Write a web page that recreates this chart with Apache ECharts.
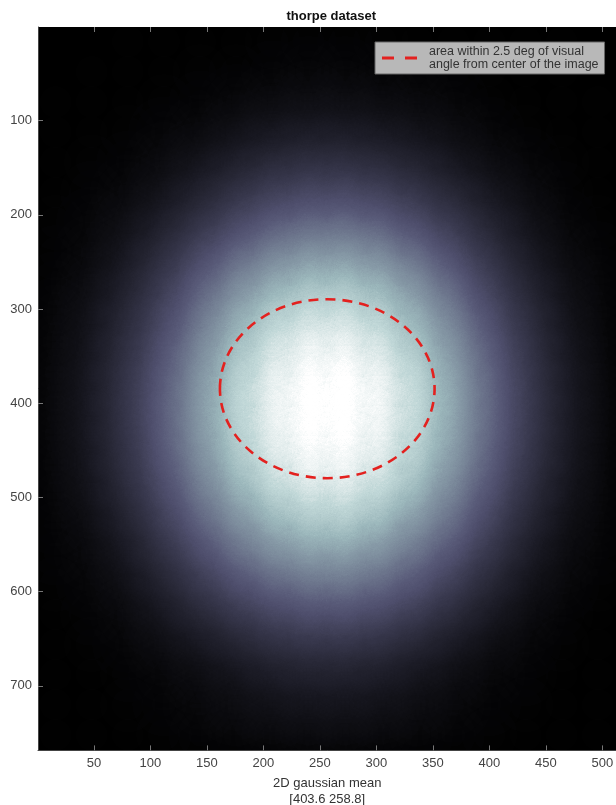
<!DOCTYPE html>
<html>
<head>
<meta charset="utf-8">
<script src="https://cdn.jsdelivr.net/npm/echarts@6/dist/echarts.min.js"></script>
<style>
  html, body { margin: 0; padding: 0; background: #ffffff; }
  #chart { width: 616px; height: 805px; }
</style>
</head>
<body>
<div id="chart"></div>
<script>
// Sample positions (image pixel coordinates) of the fixation density grid
const colCenters = [16, 48, 80, 112, 144, 176, 208, 240, 272, 304, 336, 368, 400, 432, 464, 496];
const rowCenters = [16, 48, 80, 112, 144, 176, 208, 240, 272, 304, 336, 368, 400, 432, 464, 496,
                    528, 560, 592, 624, 656, 688, 720, 752];

// Relative fixation density (0-100), one row per entry of rowCenters
const fixationDensity = [
  [1, 1, 2, 2, 2, 2, 3, 3, 3, 3, 2, 2, 2, 2, 2, 1],
  [1, 2, 2, 2, 3, 3, 4, 5, 5, 4, 4, 3, 2, 2, 2, 1],
  [2, 2, 2, 3, 4, 6, 7, 8, 8, 7, 6, 5, 3, 2, 2, 2],
  [2, 2, 3, 5, 6, 9, 12, 14, 14, 12, 10, 7, 5, 3, 2, 2],
  [2, 3, 4, 7, 11, 16, 21, 24, 24, 21, 17, 12, 7, 5, 3, 2],
  [2, 4, 6, 10, 17, 26, 33, 37, 37, 34, 27, 19, 12, 7, 4, 2],
  [3, 5, 9, 16, 26, 37, 46, 51, 52, 47, 39, 29, 18, 10, 5, 3],
  [3, 6, 12, 23, 37, 50, 60, 66, 66, 62, 52, 39, 25, 14, 7, 4],
  [4, 8, 16, 30, 47, 62, 73, 79, 80, 75, 64, 50, 33, 19, 9, 5],
  [5, 10, 21, 37, 55, 72, 83, 88, 88, 84, 74, 58, 40, 24, 11, 5],
  [5, 11, 24, 42, 62, 79, 89, 94, 94, 90, 81, 65, 46, 27, 13, 6],
  [6, 13, 27, 46, 66, 83, 93, 97, 98, 94, 85, 70, 50, 30, 15, 6],
  [6, 13, 28, 48, 68, 85, 94, 99, 99, 95, 87, 72, 51, 31, 15, 7],
  [6, 13, 27, 47, 67, 84, 93, 98, 98, 94, 86, 71, 50, 31, 15, 6],
  [5, 12, 25, 43, 63, 80, 90, 95, 95, 91, 82, 67, 47, 28, 14, 6],
  [5, 10, 22, 38, 57, 73, 85, 89, 90, 86, 76, 60, 42, 24, 12, 5],
  [4, 8, 17, 32, 49, 64, 75, 81, 82, 77, 66, 52, 35, 20, 9, 5],
  [4, 6, 13, 25, 39, 53, 64, 69, 70, 65, 55, 42, 27, 15, 7, 4],
  [3, 5, 9, 18, 29, 41, 50, 55, 56, 51, 43, 31, 20, 10, 6, 3],
  [2, 4, 6, 12, 20, 28, 36, 40, 41, 37, 30, 21, 13, 7, 4, 2],
  [2, 3, 5, 8, 12, 18, 24, 27, 27, 24, 19, 13, 8, 5, 3, 2],
  [2, 2, 3, 5, 7, 10, 14, 16, 16, 14, 11, 8, 5, 4, 2, 2],
  [2, 2, 3, 4, 6, 8, 10, 11, 11, 10, 8, 6, 4, 3, 2, 2],
  [2, 2, 2, 3, 4, 5, 6, 7, 7, 6, 5, 4, 3, 2, 2, 2]
];

// Axis ticks
const xTickValues = [50, 100, 150, 200, 250, 300, 350, 400, 450, 500];
const yTickValues = [100, 200, 300, 400, 500, 600, 700];

// Image size (pixels) and fitted 2D gaussian mean [row col]
const imageSize = [512, 768];
const gaussianMean = [403.6, 258.8];

// Circle of 2.5 deg visual angle around the image center: [x, y, radius] in pixels
const centerRegion = [256.5, 384.5, 95];

const titleText = 'thorpe dataset';
const regionLabel = 'area within 2.5 deg of visual\nangle from center of the image';

// --- build the plot --------------------------------------------------------
const plotRect = { left: 38, top: 27, width: 578.5, height: 723.4 };

// The image plane as a plain rectangle; latitude = -row so rows grow downward
echarts.registerMap('imagePlane', {
  type: 'FeatureCollection',
  features: [{
    type: 'Feature',
    properties: { name: 'imagePlane' },
    geometry: {
      type: 'Polygon',
      coordinates: [[
        [0.5, -0.5], [imageSize[0] + 0.5, -0.5],
        [imageSize[0] + 0.5, -(imageSize[1] + 0.5)], [0.5, -(imageSize[1] + 0.5)],
        [0.5, -0.5]
      ]]
    }
  }]
});

const densityPoints = [];
rowCenters.forEach(function (row, i) {
  colCenters.forEach(function (col, j) {
    densityPoints.push([col, -row, fixationDensity[i][j]]);
  });
});

// "bone" colormap, with stops spaced for the accumulated heat intensity
const boneStops = ['#000000', '#0b0b0f', '#14141c', '#1d1d28', '#262634', '#2f2f41', '#38384d',
                   '#43435c', '#4e4e6c', '#595b79', '#676e87', '#768396', '#8699a6', '#9cb8bc',
                   '#c3d9d9', '#ffffff', '#ffffff', '#ffffff', '#ffffff', '#ffffff', '#ffffff'];

const fontFamily = '"Liberation Sans", Arial, Helvetica, sans-serif';

const chart = echarts.init(document.getElementById('chart'), null, { renderer: 'canvas' });

chart.setOption({
  backgroundColor: '#ffffff',
  animation: false,
  title: {
    text: titleText,
    left: plotRect.left + plotRect.width / 2 - 1,
    top: 5,
    textAlign: 'center',
    textStyle: { fontFamily: fontFamily, fontSize: 13, fontWeight: 'bold', color: '#111' }
  },
  geo: {
    map: 'imagePlane',
    roam: false,
    silent: true,
    left: plotRect.left,
    top: plotRect.top,
    width: plotRect.width,
    height: plotRect.height,
    label: { show: false },
    itemStyle: { areaColor: '#000000', borderWidth: 0 },
    emphasis: { disabled: true },
    select: { disabled: true }
  },
  visualMap: {
    type: 'continuous',
    show: false,
    seriesIndex: 0,
    min: 0,
    max: 100,
    inRange: { color: boneStops }
  },
  grid: {
    left: plotRect.left,
    top: plotRect.top,
    width: plotRect.width,
    height: plotRect.height,
    containLabel: false,
    outerBoundsMode: 'none'
  },
  xAxis: [{
    type: 'value',
    min: 0.5,
    max: imageSize[0] + 0.5,
    position: 'bottom',
    z: 10,
    name: '2D gaussian mean\n[' + gaussianMean[0].toFixed(1) + ' ' + gaussianMean[1].toFixed(1) + ']',
    nameLocation: 'middle',
    nameGap: 17,
    nameTextStyle: { fontFamily: fontFamily, fontSize: 13, color: '#333', lineHeight: 16 },
    axisLine: { show: true, lineStyle: { color: '#444', width: 1 } },
    axisTick: { show: true, inside: true, length: 5, customValues: xTickValues, lineStyle: { color: '#777' } },
    axisLabel: { show: true, customValues: xTickValues, margin: 7, fontFamily: fontFamily, fontSize: 13, color: '#444' },
    splitLine: { show: false }
  }, {
    type: 'value',
    min: 0.5,
    max: imageSize[0] + 0.5,
    position: 'top',
    z: 10,
    axisLine: { show: false },
    axisTick: { show: true, inside: true, length: 5, customValues: xTickValues, lineStyle: { color: '#777' } },
    axisLabel: { show: false },
    splitLine: { show: false }
  }],
  yAxis: {
    type: 'value',
    inverse: true,
    min: 0.5,
    max: imageSize[1] + 0.5,
    z: 10,
    axisLine: { show: true, lineStyle: { color: '#444', width: 1 } },
    axisTick: { show: true, inside: true, length: 5, customValues: yTickValues, lineStyle: { color: '#777' } },
    axisLabel: { show: true, customValues: yTickValues, margin: 6, fontFamily: fontFamily, fontSize: 13, color: '#444' },
    splitLine: { show: false }
  },
  legend: {
    show: true,
    left: 375,
    top: 42,
    orient: 'vertical',
    padding: [3, 6, 3, 7],
    backgroundColor: '#b8b8b8',
    borderColor: '#666',
    borderWidth: 1,
    borderRadius: 0,
    itemWidth: 35,
    itemHeight: 3,
    selectedMode: false,
    data: [{ name: regionLabel, icon: 'path://M0,0h12v3h-12z M23,0h12v3h-12z' }],
    textStyle: { fontFamily: fontFamily, fontSize: 12.5, lineHeight: 13, color: '#333', padding: [0, 0, 0, 7] }
  },
  series: [{
    type: 'heatmap',
    coordinateSystem: 'geo',
    geoIndex: 0,
    data: densityPoints,
    pointSize: 22,
    blurSize: 44,
    minOpacity: 1,
    maxOpacity: 1,
    silent: true
  }, {
    type: 'custom',
    name: regionLabel,
    coordinateSystem: 'cartesian2d',
    xAxisIndex: 0,
    yAxisIndex: 0,
    z: 12,
    silent: true,
    clip: false,
    itemStyle: { color: '#e3211f' },
    encode: { x: 0, y: 1 },
    data: [centerRegion],
    renderItem: function (params, api) {
      const c = api.coord([api.value(0), api.value(1)]);
      const s = api.size([api.value(2), api.value(2)]);
      return {
        type: 'ellipse',
        shape: { cx: c[0], cy: c[1], rx: s[0], ry: s[1] },
        style: { fill: 'none', stroke: '#e3211f', lineWidth: 2.6, lineDash: [10, 7] }
      };
    }
  }]
});
</script>
</body>
</html>
